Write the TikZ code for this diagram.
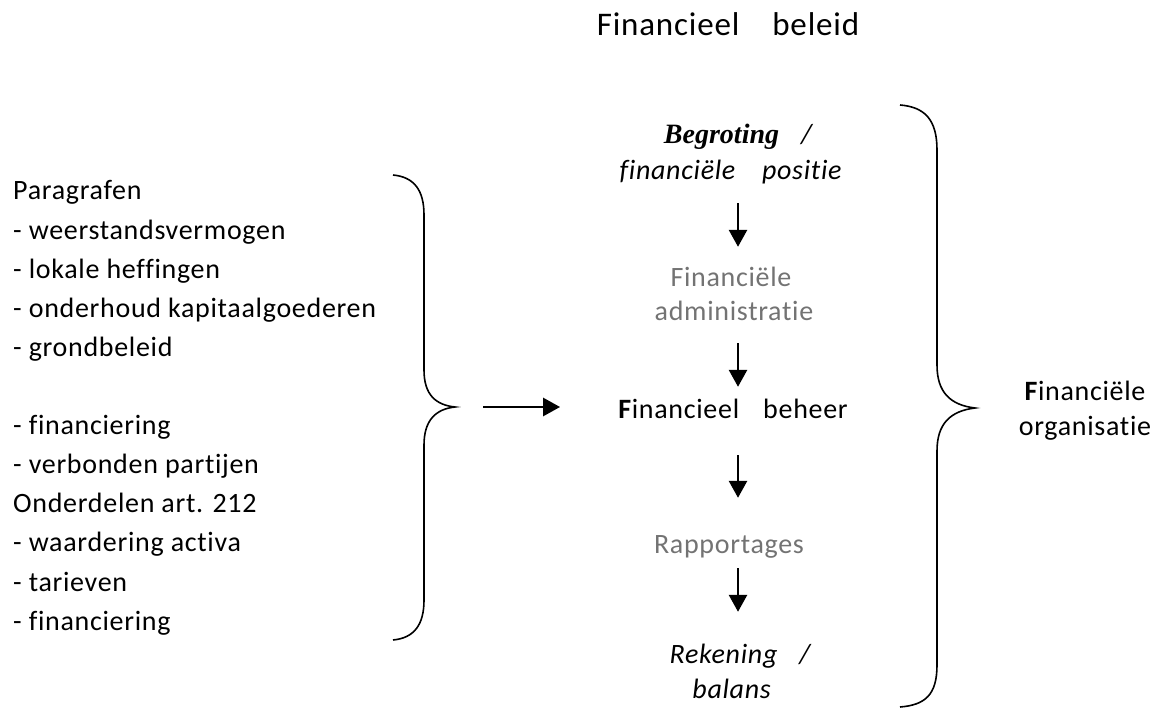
\documentclass[tikz,border=0pt]{standalone}
\usepackage{fontspec}
\setmainfont{Carlito}[LetterSpace=2.5,Ligatures=NoCommon]
\newfontfamily\begrotingfont{Liberation Serif}
\usetikzlibrary{arrows.meta}
\definecolor{lightgrey}{gray}{0.45}

\begin{document}
\begin{tikzpicture}[x=1pt,y=-1pt,
  txt/.style={inner sep=0pt,anchor=base,font=\fontsize{28}{34}\selectfont,text height=20pt,text depth=7pt},
  item/.style={inner sep=0pt,anchor=base west,font=\fontsize{28}{34}\selectfont},
  flow/.style={line width=2.8pt,-{Triangle[length=17pt,width=18pt]}},
  brace/.style={line width=1.6pt}]
  \useasboundingbox (0,0) rectangle (1159,708);
  \coordinate (colx) at (738,0);
  \coordinate (ltip) at (455,407);
  \coordinate (rtip) at (975,408);

  % links: paragrafen
  \foreach \n/\t in {0/Paragrafen, 1/- weerstandsvermogen, 2/- lokale heffingen,
      3/- onderhoud kapitaalgoederen, 4/- grondbeleid, 6/- financiering,
      7/- verbonden partijen, 8/Onderdelen art. 212, 9/- waardering activa,
      10/- tarieven, 11/- financiering}
    \node[item] (par\n) at (13,200+39.1*\n) {\t};
  \draw[brace] (393,175) .. controls (414,177) and (424,190) .. (424,215) -- (424,370)
    .. controls (424,395) and (436,405) .. (ltip) .. controls (436,409) and (424,420) .. (424,445)
    -- (424,600) .. controls (424,625) and (414,638) .. (393,640);

  % midden
  \node[txt,font=\fontsize{33}{40}\selectfont] (beleid) at (728,36) {Financieel\hspace{33pt}beleid};
  \node[txt] (begroting) at (739,144) {{\begrotingfont\bfseries\itshape Begroting}\hspace{22pt}\textit{/}};
  \node[txt] (positie) at (731,180) {\textit{financiële}\hspace{26pt}\textit{positie}};
  \node[txt,text=lightgrey] (fin) at (731,287) {Financiële};
  \node[txt,text=lightgrey] (admin) at (734,321) {administratie};
  \node[txt] (beheer) at (733,418) {\textbf{F}inancieel\hspace{24pt}beheer};
  \node[txt,text=lightgrey] (rapp) at (729,553) {Rapportages};
  \node[txt] (rekening) at (741,663) {\textit{Rekening\hspace{22pt}/}};
  \node[txt] (balans) at (732,698) {\textit{balans}};

  \draw[flow,shorten <=16pt,shorten >=20pt] (positie.south -| colx) -- (fin.north -| colx);
  \draw[flow,shorten <=15pt,shorten >=11pt] (admin.south -| colx) -- (beheer.north -| colx);
  \draw[flow,shorten <=30pt,shorten >=35pt] (beheer.south -| colx) -- (rapp.north -| colx);
  \draw[flow,shorten <=8pt,shorten >=31pt] (rapp.south -| colx) -- (rekening.north -| colx);
  \draw[flow,shorten <=28pt,shorten >=58pt] (ltip) -- (ltip -| beheer.west);

  % rechts: organisatie
  \draw[brace] (900,105) .. controls (925,107) and (937,120) .. (937,150) -- (937,365)
    .. controls (937,392) and (950,405) .. (rtip) .. controls (950,411) and (937,424) .. (937,451)
    -- (937,665) .. controls (937,695) and (925,705) .. (900,707);
  \node[txt] (org1) at (1085,400) {\textbf{F}inanciële};
  \node[txt] (org2) at (1085,435) {organisatie};
\end{tikzpicture}
\end{document}
